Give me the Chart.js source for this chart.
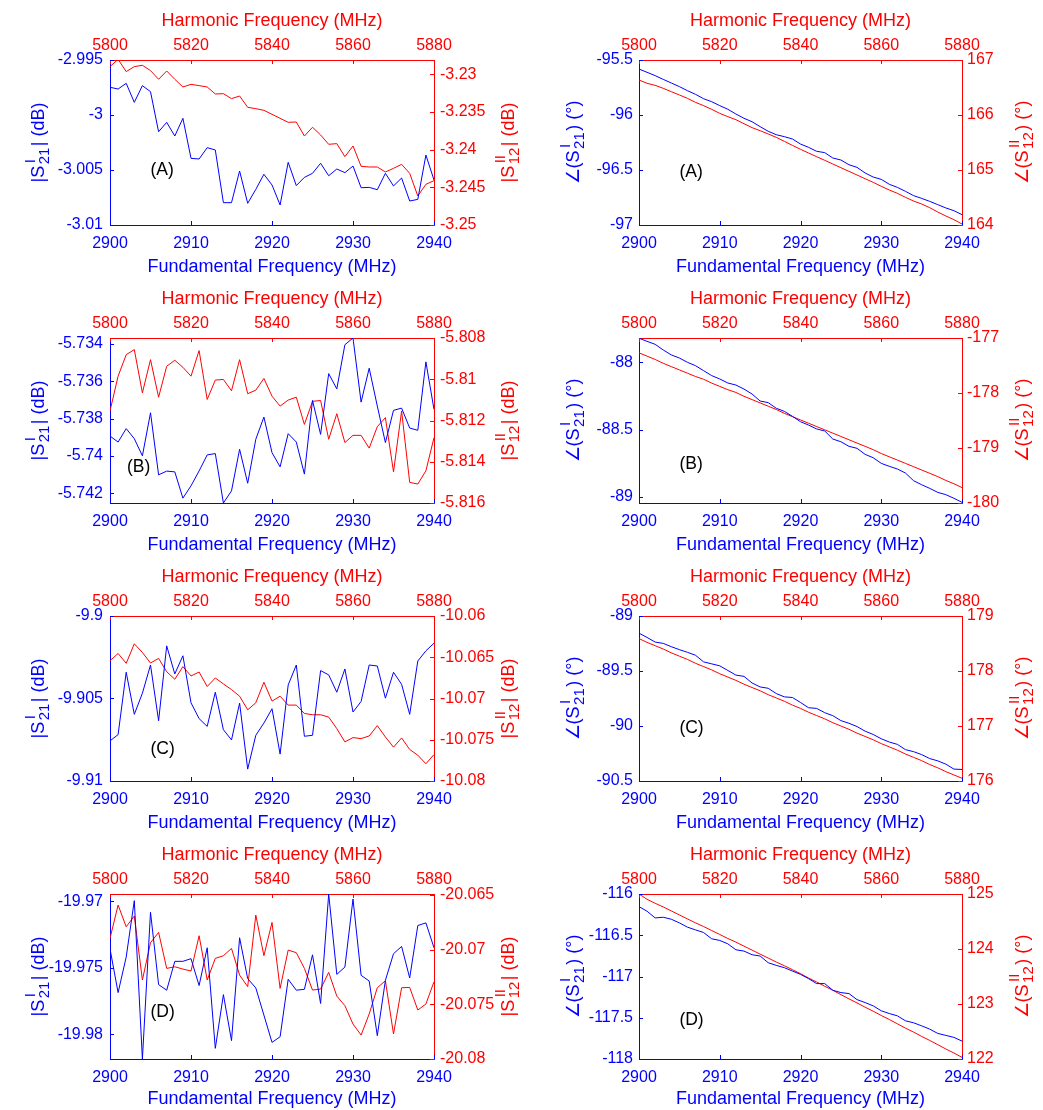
<!DOCTYPE html>
<html>
<head>
<meta charset="utf-8">
<script src="https://cdn.jsdelivr.net/npm/chart.js@4.4.0/dist/chart.umd.min.js"></script>
<style>
  html, body { margin: 0; padding: 0; background: #fff; }
  #wrap { position: relative; width: 1043px; height: 1110px; background: #fff; }
  #wrap canvas { position: absolute; }
</style>
</head>
<body>
<div id="wrap"></div>
<script>
// x grids
const fundFreq = [2900, 2901, 2902, 2903, 2904, 2905, 2906, 2907, 2908, 2909, 2910, 2911, 2912, 2913, 2914, 2915, 2916, 2917, 2918, 2919, 2920,
    2921, 2922, 2923, 2924, 2925, 2926, 2927, 2928, 2929, 2930, 2931, 2932, 2933, 2934, 2935, 2936, 2937, 2938, 2939, 2940];
const harmFreq = [5800, 5802, 5804, 5806, 5808, 5810, 5812, 5814, 5816, 5818, 5820, 5822, 5824, 5826, 5828, 5830, 5832, 5834, 5836, 5838, 5840,
    5842, 5844, 5846, 5848, 5850, 5852, 5854, 5856, 5858, 5860, 5862, 5864, 5866, 5868, 5870, 5872, 5874, 5876, 5878, 5880];
const fundTicks = [2900, 2910, 2920, 2930, 2940];
const harmTicks = [5800, 5820, 5840, 5860, 5880];

// magnitude |S21^I| (blue) and |S12^II| (red), dB
const magA_S21 = [-2.99748, -2.99764, -2.99712, -2.99885, -2.99733, -2.99788, -3.00152, -3.00067, -3.00191, -3.0003,
    -3.00394, -3.004, -3.00297, -3.00318, -3.00797, -3.00797, -3.00509, -3.00803, -3.00676, -3.00539,
    -3.00636, -3.00818, -3.0043, -3.00642, -3.00567, -3.0053, -3.00439, -3.00552, -3.00491, -3.00524,
    -3.00464, -3.00661, -3.00658, -3.00679, -3.0053, -3.00645, -3.00573, -3.00782, -3.00767, -3.00364, -3.00591];
const magA_S12 = [-3.22898, -3.22801, -3.22964, -3.22898, -3.2288, -3.22951, -3.23066, -3.22956, -3.23066, -3.23168,
    -3.23133, -3.2315, -3.23168, -3.23261, -3.23257, -3.23323, -3.23288, -3.23438, -3.23456, -3.23478,
    -3.23531, -3.23584, -3.23637, -3.23633, -3.23819, -3.23703, -3.23805, -3.23929, -3.2392, -3.24093,
    -3.23951, -3.24221, -3.2423, -3.2423, -3.24296, -3.24248, -3.24195, -3.24314, -3.24615, -3.2446, -3.24411];
const magB_S21 = [-5.73894, -5.73926, -5.73854, -5.73908, -5.74, -5.73769, -5.74102, -5.74082, -5.74086, -5.74227,
    -5.74161, -5.74081, -5.73995, -5.73988, -5.74253, -5.74188, -5.73965, -5.74147, -5.73911, -5.73792,
    -5.73983, -5.74059, -5.73881, -5.73926, -5.74098, -5.73703, -5.73885, -5.73559, -5.73641, -5.73404,
    -5.73368, -5.73712, -5.7353, -5.73733, -5.73929, -5.73756, -5.73744, -5.73851, -5.73863, -5.73496, -5.73751];
const magB_S12 = [-5.81154, -5.80985, -5.80881, -5.80856, -5.81066, -5.80905, -5.81087, -5.80937, -5.80908, -5.80942,
    -5.80985, -5.80861, -5.81098, -5.81004, -5.81001, -5.81056, -5.80905, -5.8107, -5.81053, -5.80996,
    -5.81082, -5.8113, -5.81101, -5.81087, -5.81219, -5.81107, -5.81103, -5.81291, -5.81167, -5.81307,
    -5.81272, -5.81272, -5.81334, -5.8123, -5.81186, -5.81449, -5.81154, -5.815, -5.81508, -5.81444, -5.81283];
const magC_S21 = [-9.90757, -9.90719, -9.90341, -9.90596, -9.90468, -9.90297, -9.90635, -9.90181, -9.90351, -9.90241,
    -9.90526, -9.90622, -9.90669, -9.90462, -9.90689, -9.90751, -9.90528, -9.90928, -9.90723, -9.90649,
    -9.90562, -9.90837, -9.90418, -9.90297, -9.90729, -9.90723, -9.90331, -9.90357, -9.90462, -9.90321,
    -9.90582, -9.90518, -9.90297, -9.90303, -9.90498, -9.90341, -9.90414, -9.90596, -9.90273, -9.90211, -9.90165];
const magC_S12 = [-10.06542, -10.06454, -10.06574, -10.06337, -10.06442, -10.0657, -10.06514, -10.06675, -10.06767, -10.06614,
    -10.06727, -10.06679, -10.06855, -10.06751, -10.06823, -10.06892, -10.06972, -10.07137, -10.07052, -10.06803,
    -10.07032, -10.06972, -10.0708, -10.0708, -10.07181, -10.07197, -10.07197, -10.07225, -10.07365, -10.07526,
    -10.07474, -10.07486, -10.07454, -10.07329, -10.07466, -10.0759, -10.07478, -10.07618, -10.07687, -10.07791, -10.07679];
const magD_S21 = [-19.97357, -19.97686, -19.97419, -19.96995, -19.98185, -19.97082, -19.97626, -19.97668, -19.97451, -19.97451,
    -19.97431, -19.97633, -19.97349, -19.98105, -19.97701, -19.98047, -19.97274, -19.97581, -19.97651, -19.97855,
    -19.9806, -19.98018, -19.97586, -19.97668, -19.97661, -19.97402, -19.97768, -19.96945, -19.97549, -19.97494,
    -19.96983, -19.97556, -19.97599, -19.9801, -19.97594, -19.97394, -19.97339, -19.97576, -19.97182, -19.97162, -19.97349];
const magD_S12 = [-20.06896, -20.06591, -20.0679, -20.06692, -20.07277, -20.06936, -20.06841, -20.07171, -20.07156, -20.07177,
    -20.07195, -20.06872, -20.07277, -20.07079, -20.07055, -20.06988, -20.07232, -20.07338, -20.06683, -20.07055,
    -20.0675, -20.07354, -20.07003, -20.07027, -20.07171, -20.07369, -20.0736, -20.07207, -20.07424, -20.07512,
    -20.0768, -20.07781, -20.07588, -20.07348, -20.07284, -20.07771, -20.07348, -20.07345, -20.07552, -20.07497, -20.07293];

// phase angle(S21^I) (blue) and angle(S12^II) (red), degrees
const phA_S21 = [-95.582, -95.612, -95.642, -95.676, -95.709, -95.742, -95.779, -95.812, -95.852, -95.879,
    -95.915, -95.948, -95.991, -96.03, -96.061, -96.106, -96.148, -96.179, -96.197, -96.218,
    -96.264, -96.294, -96.33, -96.342, -96.391, -96.409, -96.452, -96.476, -96.527, -96.564,
    -96.585, -96.63, -96.658, -96.694, -96.733, -96.758, -96.785, -96.815, -96.845, -96.87, -96.906];
const phA_S12 = [166.636, 166.576, 166.539, 166.485, 166.424, 166.364, 166.303, 166.23, 166.17, 166.103,
    166.03, 165.97, 165.915, 165.842, 165.77, 165.715, 165.655, 165.594, 165.521, 165.448,
    165.376, 165.309, 165.242, 165.176, 165.109, 165.042, 164.976, 164.909, 164.842, 164.776,
    164.703, 164.636, 164.576, 164.503, 164.436, 164.382, 164.315, 164.236, 164.164, 164.097, 164.018];
const phB_S21 = [-87.821, -87.844, -87.866, -87.908, -87.945, -87.968, -88.0, -88.025, -88.062, -88.099,
    -88.124, -88.154, -88.169, -88.199, -88.236, -88.288, -88.3, -88.342, -88.365, -88.402,
    -88.442, -88.467, -88.496, -88.511, -88.571, -88.591, -88.625, -88.64, -88.685, -88.71,
    -88.752, -88.774, -88.794, -88.824, -88.881, -88.911, -88.938, -88.968, -88.985, -89.012, -89.042];
const phB_S12 = [-177.27, -177.33, -177.39, -177.46, -177.52, -177.58, -177.64, -177.7, -177.75, -177.82,
    -177.88, -177.94, -177.99, -178.06, -178.12, -178.18, -178.24, -178.3, -178.37, -178.43,
    -178.49, -178.55, -178.61, -178.67, -178.73, -178.79, -178.85, -178.91, -178.97, -179.03,
    -179.1, -179.16, -179.22, -179.28, -179.34, -179.4, -179.46, -179.52, -179.59, -179.65, -179.72];
const phC_S21 = [-89.156, -89.195, -89.237, -89.249, -89.279, -89.306, -89.33, -89.357, -89.417, -89.435,
    -89.453, -89.495, -89.537, -89.549, -89.609, -89.645, -89.657, -89.705, -89.735, -89.741,
    -89.786, -89.834, -89.84, -89.879, -89.906, -89.951, -89.975, -90.005, -90.047, -90.077,
    -90.116, -90.146, -90.167, -90.215, -90.233, -90.26, -90.296, -90.317, -90.347, -90.392, -90.395];
const phC_S12 = [178.59, 178.52, 178.46, 178.4, 178.33, 178.27, 178.21, 178.14, 178.08, 178.02,
    177.95, 177.89, 177.83, 177.76, 177.7, 177.64, 177.57, 177.51, 177.45, 177.38,
    177.32, 177.25, 177.19, 177.13, 177.06, 177.0, 176.94, 176.87, 176.81, 176.75,
    176.68, 176.62, 176.56, 176.49, 176.43, 176.37, 176.3, 176.24, 176.17, 176.11, 176.05];
const phD_S21 = [-116.153, -116.209, -116.29, -116.282, -116.306, -116.35, -116.402, -116.435, -116.467, -116.543,
    -116.563, -116.604, -116.676, -116.692, -116.736, -116.752, -116.833, -116.865, -116.893, -116.934,
    -116.974, -117.026, -117.086, -117.086, -117.167, -117.195, -117.207, -117.28, -117.316, -117.356,
    -117.416, -117.449, -117.477, -117.537, -117.561, -117.598, -117.638, -117.69, -117.714, -117.738, -117.783];
const phD_S12 = [125.0, 124.903, 124.831, 124.765, 124.692, 124.62, 124.547, 124.475, 124.408, 124.336,
    124.264, 124.191, 124.125, 124.052, 123.98, 123.907, 123.835, 123.763, 123.696, 123.624,
    123.551, 123.473, 123.4, 123.322, 123.25, 123.171, 123.093, 123.02, 122.942, 122.869,
    122.791, 122.718, 122.64, 122.561, 122.489, 122.411, 122.338, 122.26, 122.182, 122.109, 122.03];

// tick labels
const magA_leftTicks = [-3.01, -3.005, -3, -2.995];
const magA_rightTicks = [-3.25, -3.245, -3.24, -3.235, -3.23];
const magB_leftTicks = [-5.742, -5.74, -5.738, -5.736, -5.734];
const magB_rightTicks = [-5.816, -5.814, -5.812, -5.81, -5.808];
const magC_leftTicks = [-9.91, -9.905, -9.9];
const magC_rightTicks = [-10.08, -10.075, -10.07, -10.065, -10.06];
const magD_leftTicks = [-19.98, -19.975, -19.97];
const magD_rightTicks = [-20.08, -20.075, -20.07, -20.065];
const phA_leftTicks = [-97, -96.5, -96, -95.5];
const phA_rightTicks = [164, 165, 166, 167];
const phB_leftTicks = [-89, -88.5, -88];
const phB_rightTicks = [-180, -179, -178, -177];
const phC_leftTicks = [-90.5, -90, -89.5, -89];
const phC_rightTicks = [176, 177, 178, 179];
const phD_leftTicks = [-118, -117.5, -117, -116.5, -116];
const phD_rightTicks = [122, 123, 124, 125];

const BLUE = '#0000ff';
const RED = '#ff0000';
const FONT = '"Liberation Sans", Arial, Helvetica, sans-serif';

const panels = [
    { col: 0, row: 0, kind: 'mag', blue: magA_S21, red: magA_S12, yl: [-3.01, -2.995], yr: [-3.25, -3.2281], tl: magA_leftTicks, tr: magA_rightTicks, label: '(A)', lx: 2905, ly: -3.005 },
    { col: 1, row: 0, kind: 'ph', blue: phA_S21, red: phA_S12, yl: [-97, -95.5], yr: [164, 167], tl: phA_leftTicks, tr: phA_rightTicks, label: '(A)', lx: 2905, ly: -96.52 },
    { col: 0, row: 1, kind: 'mag', blue: magB_S21, red: magB_S12, yl: [-5.74253, -5.73368], yr: [-5.816, -5.808], tl: magB_leftTicks, tr: magB_rightTicks, label: '(B)', lx: 2902.1, ly: -5.7406 },
    { col: 1, row: 1, kind: 'ph', blue: phB_S21, red: phB_S12, yl: [-89.047, -87.819], yr: [-180, -177], tl: phB_leftTicks, tr: phB_rightTicks, label: '(B)', lx: 2905, ly: -88.76 },
    { col: 0, row: 2, kind: 'mag', blue: magC_S21, red: magC_S12, yl: [-9.91, -9.9], yr: [-10.08, -10.06], tl: magC_leftTicks, tr: magC_rightTicks, label: '(C)', lx: 2905, ly: -9.9081 },
    { col: 1, row: 2, kind: 'ph', blue: phC_S21, red: phC_S12, yl: [-90.5, -89], yr: [176, 179], tl: phC_leftTicks, tr: phC_rightTicks, label: '(C)', lx: 2905, ly: -90.02 },
    { col: 0, row: 3, kind: 'mag', blue: magD_S21, red: magD_S12, yl: [-19.98185, -19.96945], yr: [-20.08, -20.0649], tl: magD_leftTicks, tr: magD_rightTicks, label: '(D)', lx: 2905, ly: -19.9783 },
    { col: 1, row: 3, kind: 'ph', blue: phD_S21, red: phD_S12, yl: [-118, -116], yr: [122, 125], tl: phD_leftTicks, tr: phD_rightTicks, label: '(D)', lx: 2905, ly: -117.53 }
];

// cell geometry
const cellX = [0, 521], cellW = [521, 522];
const rowY = [0, 278, 556, 834], rowH = [278, 278, 278, 276];
const leftW = [110, 118], rightW = [87, 81];
const topH = 60, plotH = 165;
const leftTitleOff = [72, 66], rightTitleOff = [74, 60];
const tickPadL = [7, 6], tickPadR = [6, 5];

const fmt = v => String(Number(v.toFixed(5)));

function scriptTitle(ctx, cx, cy, pre, sup, sub, post, color) {
    const main = '18px ' + FONT, small = '15px ' + FONT;
    const gap = 1.5;
    ctx.save();
    ctx.font = main;
    const w1 = ctx.measureText(pre).width, w4 = ctx.measureText(post).width;
    ctx.font = small;
    const ws = Math.max(ctx.measureText(sup).width, ctx.measureText(sub).width) + 2 * gap;
    const total = w1 + ws + w4;
    ctx.translate(cx, cy);
    ctx.rotate(-Math.PI / 2);
    ctx.fillStyle = color;
    ctx.textAlign = 'left';
    ctx.textBaseline = 'alphabetic';
    let x = -total / 2;
    const base = 6;
    ctx.font = main;
    ctx.fillText(pre, x, base);
    x += w1;
    ctx.font = small;
    ctx.fillText(sup, x + gap + 1, base - 9);
    ctx.fillText(sub, x + gap, base + 5);
    x += ws;
    ctx.font = main;
    ctx.fillText(post, x, base);
    ctx.restore();
}

function decor(p) {
    return {
        id: 'decor',
        afterDatasetsDraw(chart) {
            const ctx = chart.ctx, a = chart.chartArea, s = chart.scales;
            const L = 4;
            ctx.save();
            ctx.lineWidth = 1;
            const marks = [
                ['x', BLUE, v => { const px = Math.round(s.x.getPixelForValue(v)) + 0.5; ctx.moveTo(px, a.bottom); ctx.lineTo(px, a.bottom - L); }],
                ['x2', RED, v => { const px = Math.round(s.x2.getPixelForValue(v)) + 0.5; ctx.moveTo(px, a.top); ctx.lineTo(px, a.top + L); }],
                ['y', BLUE, v => { const py = Math.round(s.y.getPixelForValue(v)) + 0.5; ctx.moveTo(a.left, py); ctx.lineTo(a.left + L, py); }],
                ['y2', RED, v => { const py = Math.round(s.y2.getPixelForValue(v)) + 0.5; ctx.moveTo(a.right, py); ctx.lineTo(a.right - L, py); }]
            ];
            marks.forEach(([id, color, fn]) => {
                ctx.beginPath();
                ctx.strokeStyle = color;
                s[id].ticks.forEach(t => fn(t.value));
                ctx.stroke();
            });

            // panel label
            ctx.fillStyle = '#000';
            ctx.font = '17.5px ' + FONT;
            ctx.textAlign = 'left';
            ctx.textBaseline = 'middle';
            ctx.fillText(p.label, s.x.getPixelForValue(p.lx), s.y.getPixelForValue(p.ly));
            ctx.restore();

            // y axis titles with super/subscripts
            const cy = (a.top + a.bottom) / 2;
            const lx = a.left - leftTitleOff[p.col], rx = a.right + rightTitleOff[p.col];
            if (p.kind === 'mag') {
                scriptTitle(ctx, lx, cy, '|S', 'I', '21', '| (dB)', BLUE);
                scriptTitle(ctx, rx, cy, '|S', 'II', '12', '| (dB)', RED);
            } else {
                scriptTitle(ctx, lx, cy, '\u2220(S', 'I', '21', ') (\u00b0)', BLUE);
                scriptTitle(ctx, rx, cy, '\u2220(S', 'II', '12', ') (\u00b0)', RED);
            }
        }
    };
}

const wrap = document.getElementById('wrap');

panels.forEach(p => {
    const W = cellW[p.col], H = rowH[p.row];
    const cv = document.createElement('canvas');
    cv.width = W;
    cv.height = H;
    cv.style.left = cellX[p.col] + 'px';
    cv.style.top = rowY[p.row] + 'px';
    cv.style.width = W + 'px';
    cv.style.height = H + 'px';
    wrap.appendChild(cv);

    const bottomH = H - topH - plotH;
    const tickFont = { family: FONT, size: 16 };
    const titleFont = { family: FONT, size: 18 };

    new Chart(cv, {
        type: 'line',
        data: {
            datasets: [{
                data: fundFreq.map((f, i) => ({ x: f, y: p.blue[i] })),
                xAxisID: 'x', yAxisID: 'y',
                borderColor: BLUE, borderWidth: 1, pointRadius: 0, fill: false, tension: 0
            }, {
                data: harmFreq.map((f, i) => ({ x: f, y: p.red[i] })),
                xAxisID: 'x2', yAxisID: 'y2',
                borderColor: RED, borderWidth: 1, pointRadius: 0, fill: false, tension: 0
            }]
        },
        options: {
            responsive: false,
            animation: false,
            layout: { padding: 0 },
            plugins: { legend: { display: false }, tooltip: { enabled: false } },
            scales: {
                x: {
                    type: 'linear', position: 'bottom', min: 2900, max: 2940,
                    afterBuildTicks: s => { s.ticks = fundTicks.map(v => ({ value: v })); },
                    ticks: { color: BLUE, font: tickFont, padding: 9, maxRotation: 0, autoSkip: false, callback: v => String(v) },
                    grid: { display: false, drawTicks: false },
                    border: { color: BLUE, width: 1 },
                    title: { display: true, text: 'Fundamental Frequency (MHz)', color: BLUE, font: titleFont, padding: { top: 0, bottom: 0 } },
                    afterFit: s => { s.height = bottomH; }
                },
                x2: {
                    type: 'linear', position: 'top', min: 5800, max: 5880,
                    afterBuildTicks: s => { s.ticks = harmTicks.map(v => ({ value: v })); },
                    ticks: { color: RED, font: tickFont, padding: 5, maxRotation: 0, autoSkip: false, callback: v => String(v) },
                    grid: { display: false, drawTicks: false },
                    border: { color: RED, width: 1 },
                    title: { display: true, text: 'Harmonic Frequency (MHz)', color: RED, font: titleFont, padding: { top: 10, bottom: 0 } },
                    afterFit: s => { s.height = topH; }
                },
                y: {
                    type: 'linear', position: 'left', min: p.yl[0], max: p.yl[1],
                    afterBuildTicks: s => { s.ticks = p.tl.map(v => ({ value: v })); },
                    ticks: { color: BLUE, font: tickFont, padding: tickPadL[p.col], autoSkip: false, callback: v => fmt(v) },
                    grid: { display: false, drawTicks: false },
                    border: { color: BLUE, width: 1 },
                    afterFit: s => { s.width = leftW[p.col]; }
                },
                y2: {
                    type: 'linear', position: 'right', min: p.yr[0], max: p.yr[1],
                    afterBuildTicks: s => { s.ticks = p.tr.map(v => ({ value: v })); },
                    ticks: { color: RED, font: tickFont, padding: tickPadR[p.col], autoSkip: false, callback: v => fmt(v) },
                    grid: { display: false, drawTicks: false },
                    border: { color: RED, width: 1 },
                    afterFit: s => { s.width = rightW[p.col]; }
                }
            }
        },
        plugins: [decor(p)]
    });
});
</script>
</body>
</html>
